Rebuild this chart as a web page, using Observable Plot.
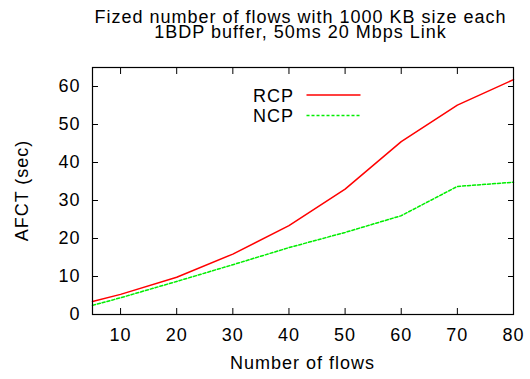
<!DOCTYPE html>
<html>
<head>
<meta charset="utf-8">
<script src="https://cdn.jsdelivr.net/npm/d3@7"></script>
<script src="https://cdn.jsdelivr.net/npm/@observablehq/plot@0.6"></script>
<style>
  html, body { margin: 0; padding: 0; background: #fff; }
  #chart svg { display: block; }
</style>
</head>
<body>
<div id="chart"></div>
<script>
const titleLines = ["Fized number of flows with 1000 KB size each", "1BDP buffer, 50ms 20 Mbps Link"];
const xLabel = "Number of flows";
const yLabel = "AFCT (sec)";
const flows = [5, 10, 20, 30, 40, 50, 60, 70, 80];
const rcp = [3.4, 5.3, 9.8, 15.9, 23.4, 33.0, 45.5, 55.1, 61.8];
const ncp = [2.4, 4.4, 8.7, 13.1, 17.6, 21.6, 26.0, 33.7, 34.8];
const seriesNames = ["RCP", "NCP"];
const seriesColors = ["#ff0000", "#00ee00"];
const xTicks = [10, 20, 30, 40, 50, 60, 70, 80];
const yTicks = [0, 10, 20, 30, 40, 50, 60];

const rcpData = flows.map((f, i) => ({flows: f, afct: rcp[i], series: "RCP"}));
const ncpData = flows.map((f, i) => ({flows: f, afct: ncp[i], series: "NCP"}));

const font = "'Liberation Sans', Arial, Helvetica, sans-serif";

const plot = Plot.plot({
  width: 530,
  height: 379,
  marginLeft: 92,
  marginRight: 17,
  marginTop: 67,
  marginBottom: 65,
  style: {fontFamily: font, fontSize: "18px", background: "#fff", color: "#000", letterSpacing: "1px"},
  x: {domain: [5, 80]},
  y: {domain: [0, 65]},
  color: {domain: seriesNames, range: seriesColors},
  marks: [
    Plot.axisX({anchor: "bottom", ticks: xTicks, tickSize: 0, tickPadding: 14, label: null}),
    Plot.axisX({anchor: "bottom", ticks: xTicks, tickSize: -6, tickFormat: () => "", label: null}),
    Plot.axisX({anchor: "top", ticks: xTicks, tickSize: -6, tickFormat: () => "", label: null}),
    Plot.axisY({anchor: "left", ticks: yTicks, tickSize: 0, tickPadding: 12, label: null}),
    Plot.axisY({anchor: "left", ticks: yTicks, tickSize: -6, tickFormat: () => "", label: null}),
    Plot.axisY({anchor: "right", ticks: yTicks, tickSize: -6, tickFormat: () => "", label: null}),
    Plot.line(rcpData, {x: "flows", y: "afct", stroke: "series", strokeWidth: 1.5}),
    Plot.line(ncpData, {x: "flows", y: "afct", stroke: "series", strokeWidth: 1.5, strokeDasharray: "3,2"}),
    Plot.frame({stroke: "#000", strokeWidth: 1.2})
  ]
});

document.getElementById("chart").appendChild(plot);

const svg = d3.select(plot);
const [x0, x1] = plot.scale("x").range;
const [yb, yt] = plot.scale("y").range;
const cx = (x0 + x1) / 2;
const cy = (yb + yt) / 2;

const t = svg.append("g").attr("font-family", font).attr("font-size", 18).attr("fill", "#000").style("letter-spacing", "1px");
t.append("text").attr("x", cx - 2).attr("y", 22.5).attr("text-anchor", "middle").text(titleLines[0]);
t.append("text").attr("x", cx - 2).attr("y", 38).attr("text-anchor", "middle").text(titleLines[1]);
t.append("text").attr("x", cx).attr("y", 369).attr("text-anchor", "middle").text(xLabel);
t.append("text").attr("transform", `translate(28,${cy}) rotate(-90)`).attr("text-anchor", "middle").text(yLabel);

// legend
const legendRows = [{y: 95}, {y: 115.5}];
seriesNames.forEach((name, i) => {
  const ly = legendRows[i].y;
  t.append("text").attr("x", 294).attr("y", ly + 6.5).attr("text-anchor", "end").text(name);
  t.append("line").attr("x1", 306.5).attr("x2", 360.5).attr("y1", ly).attr("y2", ly)
    .attr("stroke", seriesColors[i]).attr("stroke-width", 1.5)
    .attr("stroke-dasharray", i === 1 ? "3,2" : null);
});
</script>
</body>
</html>
